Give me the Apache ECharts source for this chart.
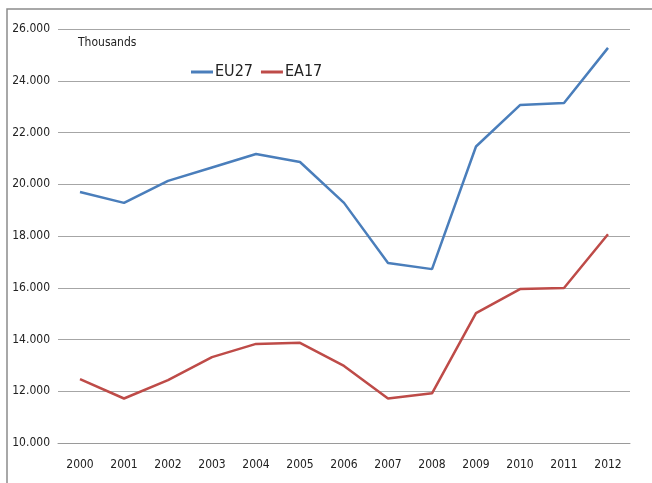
<!DOCTYPE html>
<html>
<head>
<meta charset="utf-8">
<script src="https://cdn.jsdelivr.net/npm/echarts@6/dist/echarts.min.js"></script>
<style>
  html, body { margin: 0; padding: 0; background: #fff; }
  #chart { width: 652px; height: 483px; }
</style>
</head>
<body>
<div id="chart"></div>
<script>
const years = ['2000', '2001', '2002', '2003', '2004', '2005', '2006', '2007', '2008', '2009', '2010', '2011', '2012'];
const eu27 = [19700, 19280, 20130, 20650, 21170, 20860, 19280, 16960, 16720, 21460, 23060, 23140, 25270];
const ea17 = [12470, 11720, 12430, 13320, 13830, 13870, 12980, 11720, 11920, 15020, 15950, 15990, 18070];

const font = '"Liberation Sans Narrow", "DejaVu Sans Condensed", sans-serif';

const chart = echarts.init(document.getElementById('chart'));

const option = {
  animation: false,
  backgroundColor: '#fff',
  grid: { left: 58, right: 22, top: 29, bottom: 40 },
  graphic: [
    { // outer frame (left and top edges visible)
      type: 'rect',
      shape: { x: 7, y: 9, width: 700, height: 520 },
      style: { fill: 'none', stroke: '#8c8c8c', lineWidth: 1.5 },
      silent: true
    },
    {
      type: 'text',
      left: 78, top: 37,
      style: { text: 'Thousands', font: '12px ' + font, fill: '#222' }
    }
  ],
  legend: {
    data: ['EU27', 'EA17'],
    left: 186, top: 59,
    itemWidth: 22, itemHeight: 3, itemGap: 8,
    icon: 'rect',
    textStyle: { fontFamily: font, fontSize: 16, color: '#222', padding: [0, 0, 0, -3] }
  },
  xAxis: {
    type: 'category',
    data: years,
    boundaryGap: true,
    axisLine: { lineStyle: { color: '#9a9a9a', width: 1 } },
    axisTick: { show: false },
    axisLabel: { fontFamily: font, fontSize: 12, color: '#222', margin: 16 }
  },
  yAxis: {
    type: 'value',
    min: 10000, max: 26000, interval: 2000,
    axisLine: { show: false },
    axisTick: { show: false },
    splitLine: { lineStyle: { color: '#a6a6a6', width: 1 } },
    axisLabel: {
      fontFamily: font, fontSize: 12, color: '#222', margin: 8,
      formatter: v => (v / 1000).toFixed(3)
    }
  },
  series: [
    {
      name: 'EU27', type: 'line', data: eu27,
      symbol: 'none',
      itemStyle: { color: '#4a7ebb' },
      lineStyle: { color: '#4a7ebb', width: 2.5 }
    },
    {
      name: 'EA17', type: 'line', data: ea17,
      symbol: 'none',
      itemStyle: { color: '#be4b48' },
      lineStyle: { color: '#be4b48', width: 2.5 }
    }
  ]
};

chart.setOption(option);
</script>
</body>
</html>
